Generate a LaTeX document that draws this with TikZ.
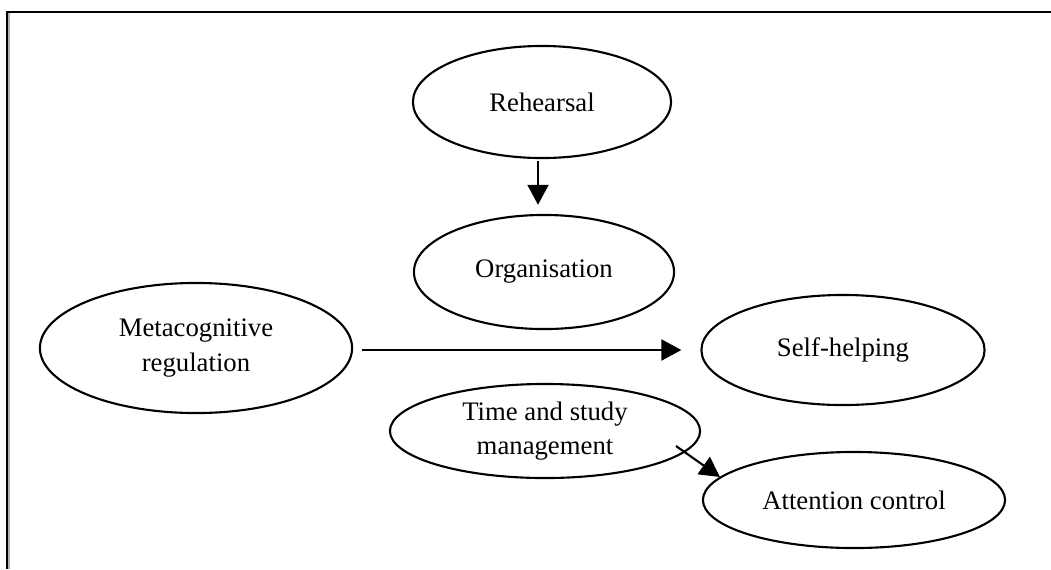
\documentclass[tikz,border=0pt]{standalone}
\usepackage{fontspec}
\setmainfont{Liberation Serif}
\usetikzlibrary{shapes.geometric,arrows.meta}
\begin{document}
\begin{tikzpicture}[x=0.01cm,y=-0.01cm,
  bubble/.style={ellipse,draw,line width=0.6pt,inner sep=0pt,align=center,
    font=\fontsize{7.6}{9.8}\selectfont},
  link/.style={line width=0.6pt,-{Triangle[length=2mm,width=2.1mm]}}]
\useasboundingbox (0,0) rectangle (1051,569);
% frame around the figure (open to the right and bottom)
\draw[line width=0.7pt,gray!60] (8.5,13) -- (8.5,569);
\draw[line width=0.7pt] (7,569) -- (7,12) -- (1051,12);
% concepts
\node[bubble,minimum width=2.58cm,minimum height=1.12cm] (reh) at (542,102) {Rehearsal};
\node[bubble,minimum width=2.60cm,minimum height=1.14cm] (org) at (544,272) {Organisation};
\node[bubble,minimum width=3.12cm,minimum height=1.30cm] (meta) at (196,348) {Metacognitive\\regulation};
\node[bubble,minimum width=2.83cm,minimum height=1.10cm] (self) at (843,350) {Self-helping};
\node[bubble,minimum width=3.10cm,minimum height=0.94cm] (time) at (545,431) {Time and study\\management};
\node[bubble,minimum width=3.02cm,minimum height=0.96cm] (att) at (854,500) {Attention control};
% connectors
\draw[link,shorten <=0.6pt,shorten >=2.6pt] (reh.south -| 538,0) -- (org.north -| 538,0);
\draw[link,shorten <=2.6pt,shorten >=5.4pt] (meta.east |- 0,350) -- (self.west);
\coordinate (ts) at (676,446);
\coordinate (te) at (720,477);
\draw[link] (ts) -- (te);
\end{tikzpicture}
\end{document}
